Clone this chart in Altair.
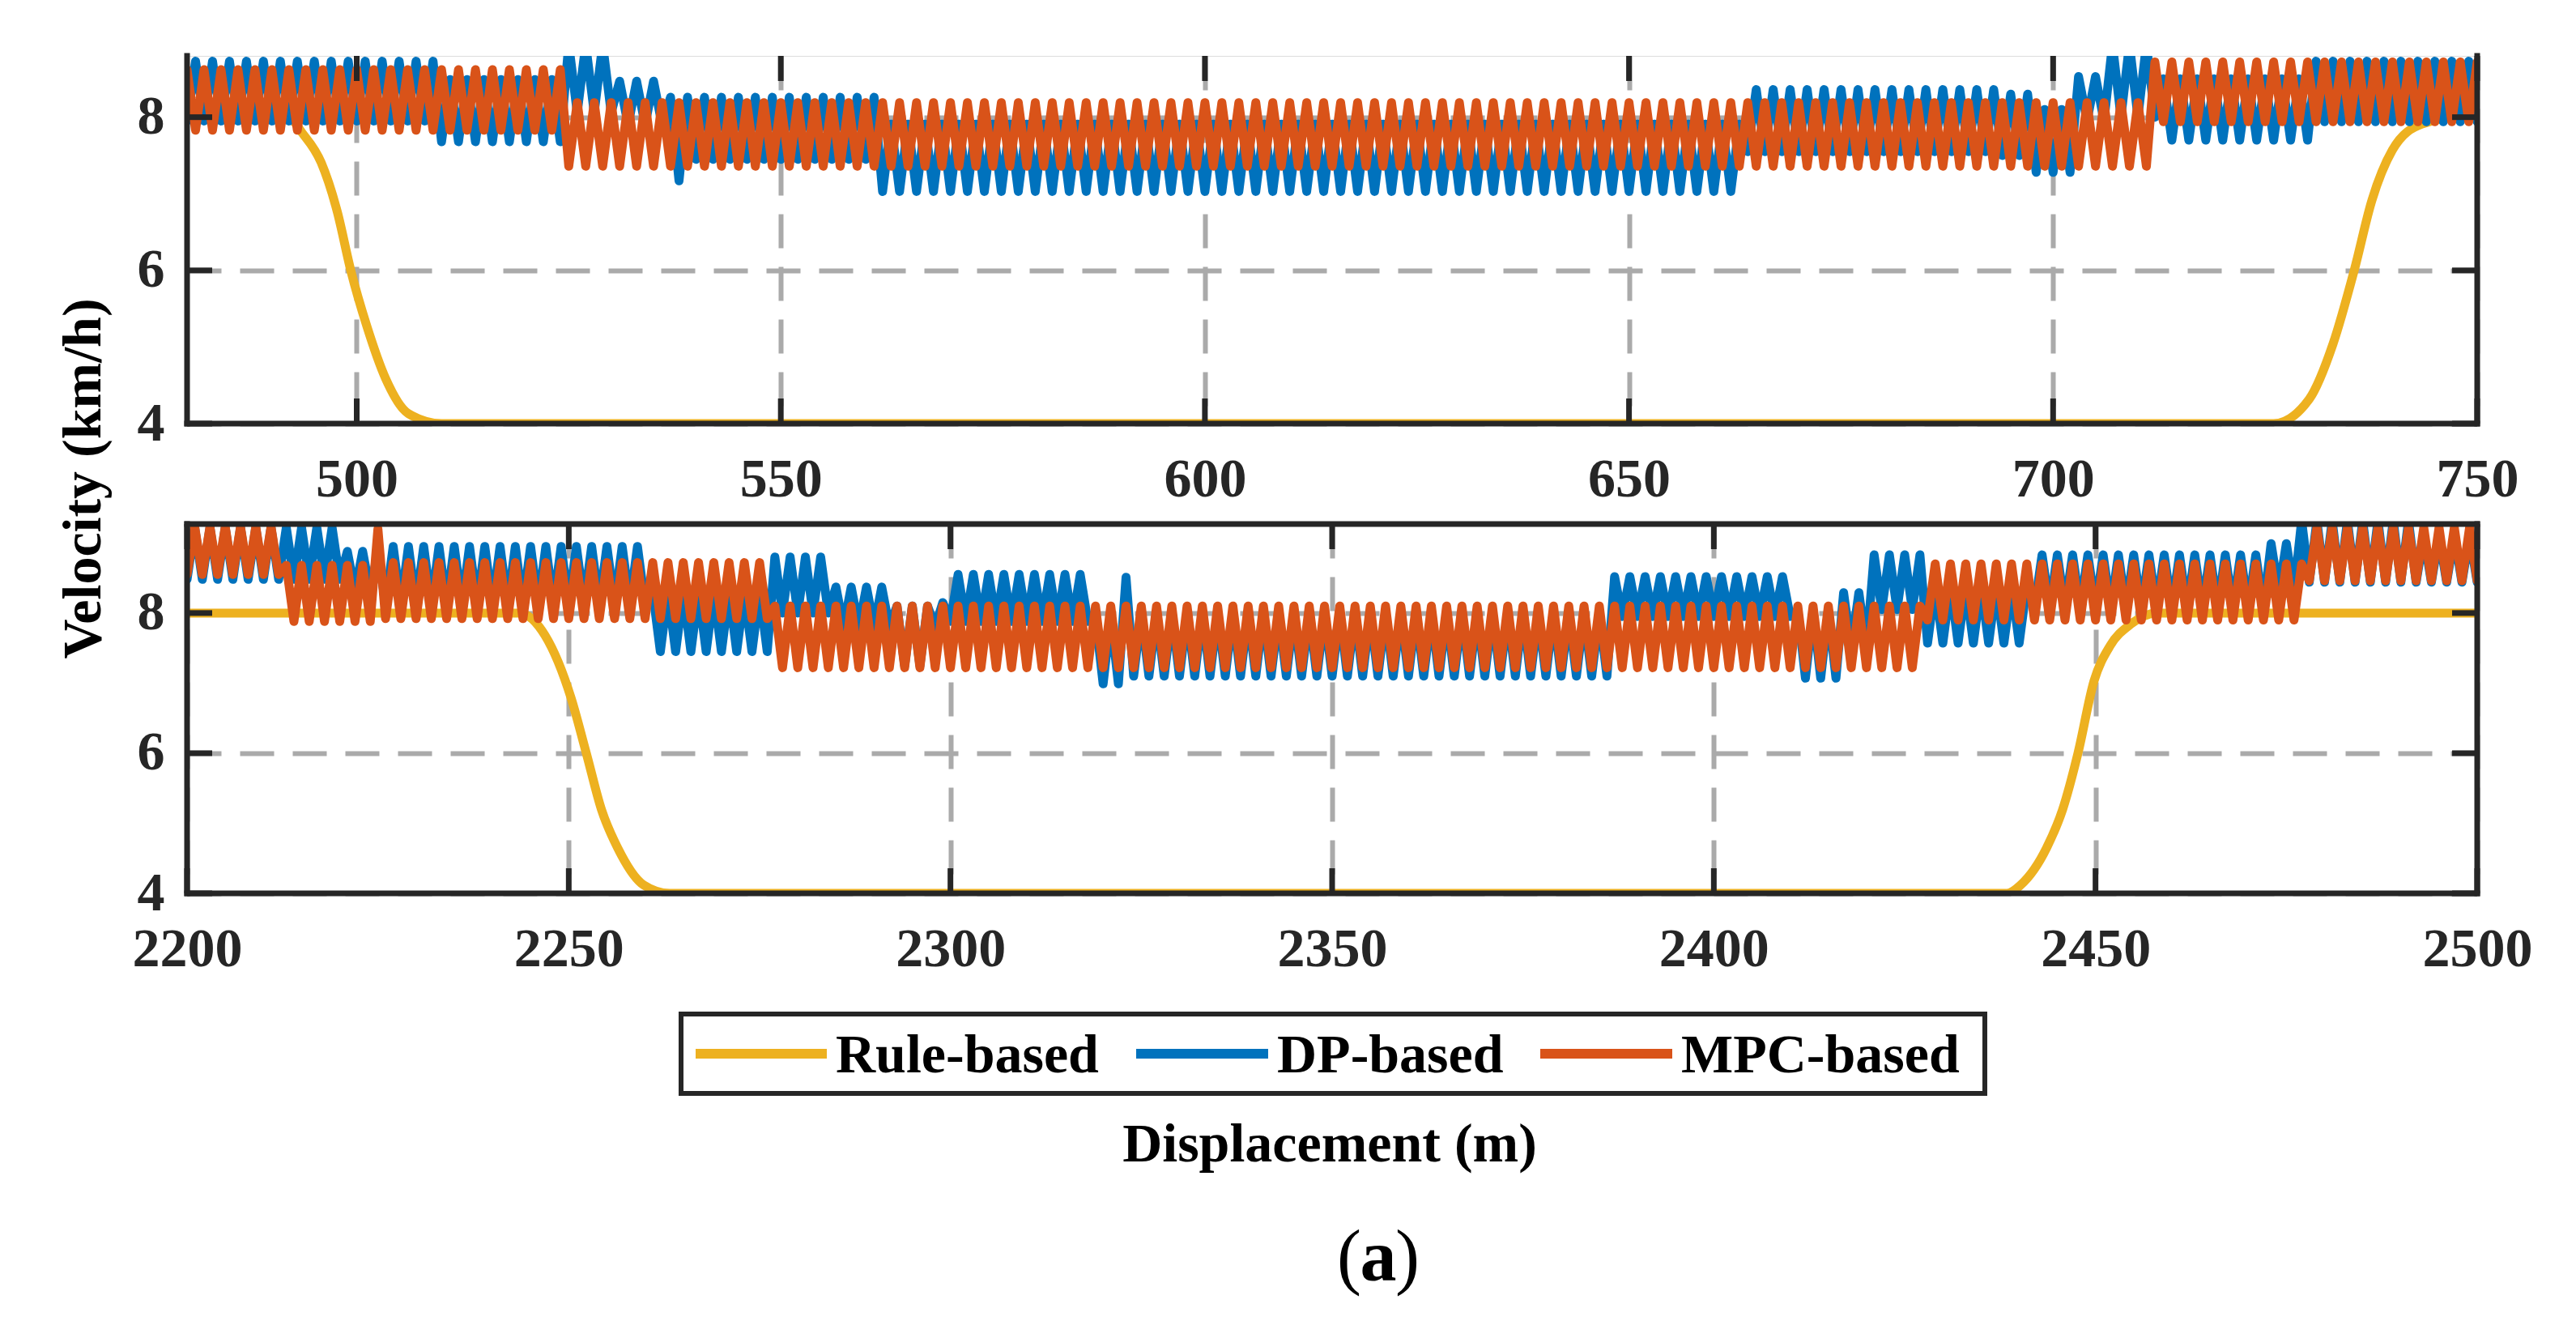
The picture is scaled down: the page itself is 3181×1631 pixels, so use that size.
import altair as alt
import pandas as pd

# ---------------- data ----------------
SERIES = ["Rule-based", "DP-based", "MPC-based"]
COLORS = ["#EDB120", "#0072BD", "#D95319"]

TOP_X_DOMAIN = [480, 750]
TOP_Y_DOMAIN = [4, 8.8]
BOT_X_DOMAIN = [2200, 2500]
BOT_Y_DOMAIN = [4, 9.27]
TOP_X_TICKS = [500, 550, 600, 650, 700, 750]
BOT_X_TICKS = [2200, 2250, 2300, 2350, 2400, 2450, 2500]
Y_TICKS = [4, 6, 8]

# Rule-based speed profile (key points of the smooth curve)
RULE_TOP_X = [480, 491.9, 493.6, 495.8, 497.7, 499.3, 501.2, 503.4, 506.1, 510.0,
              726.0, 730.2, 733.0, 735.5, 737.6, 740.0, 743.5, 748.0, 750]
RULE_TOP_V = [8.0, 8.0, 7.79, 7.41, 6.77, 6.0, 5.27, 4.59, 4.13, 4.0,
              4.0, 4.32, 5.04, 6.0, 6.92, 7.57, 7.91, 8.0, 8.0]
RULE_BOT_X = [2200, 2243.5, 2246.9, 2250.3, 2252.3, 2254.3, 2256.4, 2259.8, 2263.2,
              2438.4, 2440.2, 2443.6, 2445.7, 2447.7, 2449.8, 2451.9, 2454.6, 2458.0, 2500]
RULE_BOT_V = [8.0, 8.0, 7.68, 6.79, 6.0, 5.19, 4.65, 4.12, 4.0,
              4.0, 4.12, 4.65, 5.2, 6.0, 7.03, 7.53, 7.84, 8.0, 8.0]

# Oscillating profiles: (from m, to m, trough km/h, peak km/h); one peak every 2 m
DP_TOP_SEGMENTS = [
    (480, 509, 7.95, 8.73), (510, 524, 7.68, 8.49), (525, 530, 8.06, 8.95),
    (531, 536, 7.90, 8.47), (537, 538, 7.17, 8.26), (539, 561, 7.45, 8.26),
    (562, 663, 7.03, 7.91), (664, 693, 7.55, 8.36), (694, 697, 7.50, 8.30),
    (698, 702, 7.28, 8.10), (703, 706, 7.95, 8.53), (707, 712, 8.00, 8.95),
    (713, 730, 7.70, 8.50), (731, 750, 7.94, 8.73),
]
MPC_TOP_SEGMENTS = [
    (480, 524, 7.83, 8.62), (525, 711, 7.36, 8.19), (712, 750, 7.94, 8.72),
]
DP_BOT_SEGMENTS = [
    (2200, 2220, 8.48, 9.22), (2221, 2225, 8.30, 8.88), (2226, 2260, 8.12, 8.95),
    (2261, 2276, 7.45, 8.30), (2277, 2284, 8.00, 8.80), (2285, 2292, 7.80, 8.37),
    (2293, 2297, 7.25, 8.10), (2298, 2299, 7.80, 8.15), (2300, 2318, 7.88, 8.55),
    (2319, 2322, 6.99, 7.95), (2323, 2323, 7.50, 8.51), (2324, 2386, 7.10, 8.00),
    (2387, 2410, 7.95, 8.52), (2411, 2416, 7.07, 8.04), (2417, 2420, 7.50, 8.29),
    (2421, 2427, 8.05, 8.83), (2428, 2441, 7.57, 8.40), (2442, 2472, 8.07, 8.83),
    (2473, 2476, 8.30, 8.99), (2477, 2492, 8.44, 9.32), (2493, 2500, 8.44, 9.10),
]
MPC_BOT_SEGMENTS = [
    (2200, 2212, 8.55, 9.23), (2213, 2224, 7.88, 8.68), (2225, 2225, 7.90, 9.20),
    (2226, 2276, 7.92, 8.72), (2277, 2427, 7.22, 8.10), (2428, 2477, 7.90, 8.70),
    (2478, 2500, 8.46, 9.22),
]

# ---------------- styling / layout ----------------
FONT = "Liberation Serif"
INK = "#262626"
GRID = "#AAAAAA"
W = 2828
H_TOP = 454
H_BOT = 456
LINE_W = 11
TICK_LEN = 31
BORDER_W = 7


def expand(segments, peak_parity):
    xs, vs = [], []
    for a, b, lo, hi in segments:
        for x in range(a, b + 1):
            xs.append(x)
            vs.append(hi if x % 2 == peak_parity else lo)
    return pd.DataFrame({"x": xs, "v": vs})


def one_row():
    return pd.DataFrame({"k": [0]})


def panel(xdom, ydom, xticks, H, rule_df, dp_df, mpc_df, top_border, extras):
    xs = alt.Scale(domain=xdom, nice=False, zero=False)
    ys = alt.Scale(domain=ydom, nice=False, zero=False)
    xaxis = alt.Axis(values=xticks, format="d", grid=True, gridColor=GRID,
                     gridDash=[42, 23], gridWidth=6, ticks=False, domain=False,
                     labelFont=FONT, labelFontWeight="bold", labelFontSize=68,
                     labelColor=INK, labelPadding=35, labelFlush=False,
                     labelOverlap=False, title=None)
    yaxis = alt.Axis(values=Y_TICKS, format="d", grid=True, gridColor=GRID,
                     gridDash=[42, 23], gridWidth=6, ticks=False, domain=False,
                     labelFont=FONT, labelFontWeight="bold", labelFontSize=68,
                     labelColor=INK, labelPadding=28, labelOverlap=False, title=None)
    layers = []
    for df, name, color, interp in [(rule_df, SERIES[0], COLORS[0], "monotone"),
                                    (dp_df, SERIES[1], COLORS[1], "linear"),
                                    (mpc_df, SERIES[2], COLORS[2], "linear")]:
        layers.append(
            alt.Chart(df).mark_line(color=color, strokeWidth=LINE_W, clip=True,
                                    strokeJoin="round", strokeCap="round",
                                    interpolate=interp)
            .encode(x=alt.X("x:Q", scale=xs, axis=xaxis),
                    y=alt.Y("v:Q", scale=ys, axis=yaxis))
        )
    xt = pd.DataFrame({"t": xticks})
    yt = pd.DataFrame({"t": Y_TICKS})
    tick = dict(color=INK, strokeWidth=BORDER_W)
    layers.append(alt.Chart(xt).mark_rule(**tick).encode(
        x=alt.X("t:Q", scale=xs, axis=xaxis), y=alt.value(H), y2=alt.value(H - TICK_LEN)))
    layers.append(alt.Chart(xt).mark_rule(**tick).encode(
        x=alt.X("t:Q", scale=xs, axis=xaxis), y=alt.value(0), y2=alt.value(TICK_LEN)))
    layers.append(alt.Chart(yt).mark_rule(**tick).encode(
        y=alt.Y("t:Q", scale=ys, axis=yaxis), x=alt.value(0), x2=alt.value(TICK_LEN)))
    layers.append(alt.Chart(yt).mark_rule(**tick).encode(
        y=alt.Y("t:Q", scale=ys, axis=yaxis), x=alt.value(W), x2=alt.value(W - TICK_LEN)))
    border = dict(color=INK, strokeWidth=BORDER_W, strokeCap="square")
    layers.append(alt.Chart(one_row()).mark_rule(**border).encode(
        x=alt.value(0), y=alt.value(0), y2=alt.value(H)))
    layers.append(alt.Chart(one_row()).mark_rule(**border).encode(
        x=alt.value(W), y=alt.value(0), y2=alt.value(H)))
    layers.append(alt.Chart(one_row()).mark_rule(**border).encode(
        x=alt.value(0), x2=alt.value(W), y=alt.value(H)))
    if top_border:
        layers.append(alt.Chart(one_row()).mark_rule(**border).encode(
            x=alt.value(0), x2=alt.value(W), y=alt.value(0)))
    layers.extend(extras)
    return alt.layer(*layers).properties(width=W, height=H)


rule_top = pd.DataFrame({"x": RULE_TOP_X, "v": RULE_TOP_V})
rule_bot = pd.DataFrame({"x": RULE_BOT_X, "v": RULE_BOT_V})
dp_top = expand(DP_TOP_SEGMENTS, 1)
mpc_top = expand(MPC_TOP_SEGMENTS, 0)
dp_bot = expand(DP_BOT_SEGMENTS, 1)
mpc_bot = expand(MPC_BOT_SEGMENTS, 1)

txt = dict(font=FONT, fontWeight="bold", fontSize=68, color="black")

velocity = alt.Chart(one_row()).mark_text(
    text="Velocity (km/h)", angle=270, align="center", baseline="middle", **txt
).encode(x=alt.value(-127), y=alt.value(522))

# legend (manual, boxed, horizontal)
LEG_BOX = (610, 2220, 605, 703)
LEG_SYM = [(628, 790), (1172, 1335), (1671, 1834)]
LEG_TXT = [801, 1346, 1845]
LEG_SYM_Y = 654
LEG_TXT_Y = 677

legend_layers = [
    alt.Chart(one_row()).mark_rect(fill="white", stroke=INK, strokeWidth=6).encode(
        x=alt.value(LEG_BOX[0]), x2=alt.value(LEG_BOX[1]),
        y=alt.value(LEG_BOX[2]), y2=alt.value(LEG_BOX[3]))
]
for name, color, (s0, s1), tx in zip(SERIES, COLORS, LEG_SYM, LEG_TXT):
    legend_layers.append(alt.Chart(one_row()).mark_rule(color=color, strokeWidth=12).encode(
        x=alt.value(s0), x2=alt.value(s1), y=alt.value(LEG_SYM_Y)))
    legend_layers.append(alt.Chart(one_row()).mark_text(
        text=name, align="left", baseline="alphabetic", **txt).encode(
        x=alt.value(tx), y=alt.value(LEG_TXT_Y)))

xtitle = alt.Chart(one_row()).mark_text(
    text="Displacement (m)", align="center", baseline="alphabetic", **txt
).encode(x=alt.value(W / 2 - 3), y=alt.value(787))

sub_l = alt.Chart(one_row()).mark_text(text="(", align="right", baseline="alphabetic",
                                        font=FONT, fontSize=90, color="black").encode(
    x=alt.value(1450), y=alt.value(934))
sub_a = alt.Chart(one_row()).mark_text(text="a", align="center", baseline="alphabetic",
                                        font=FONT, fontSize=90, fontWeight="bold",
                                        color="black").encode(
    x=alt.value(1471), y=alt.value(934))
sub_r = alt.Chart(one_row()).mark_text(text=")", align="left", baseline="alphabetic",
                                        font=FONT, fontSize=90, color="black").encode(
    x=alt.value(1492), y=alt.value(934))

top = panel(TOP_X_DOMAIN, TOP_Y_DOMAIN, TOP_X_TICKS, H_TOP, rule_top, dp_top, mpc_top,
            False, [velocity])
bottom = panel(BOT_X_DOMAIN, BOT_Y_DOMAIN, BOT_X_TICKS, H_BOT, rule_bot, dp_bot, mpc_bot,
               True, legend_layers + [xtitle, sub_l, sub_a, sub_r])

chart = alt.vconcat(top, bottom, spacing=124, bounds="flush").resolve_scale(
    x="independent", y="independent"
).properties(
    padding={"left": 61, "top": 55, "right": 20, "bottom": 10}
).configure_view(stroke=None).configure(background="white")

chart.save("out.html", embed_options={"renderer": "svg", "actions": False})
